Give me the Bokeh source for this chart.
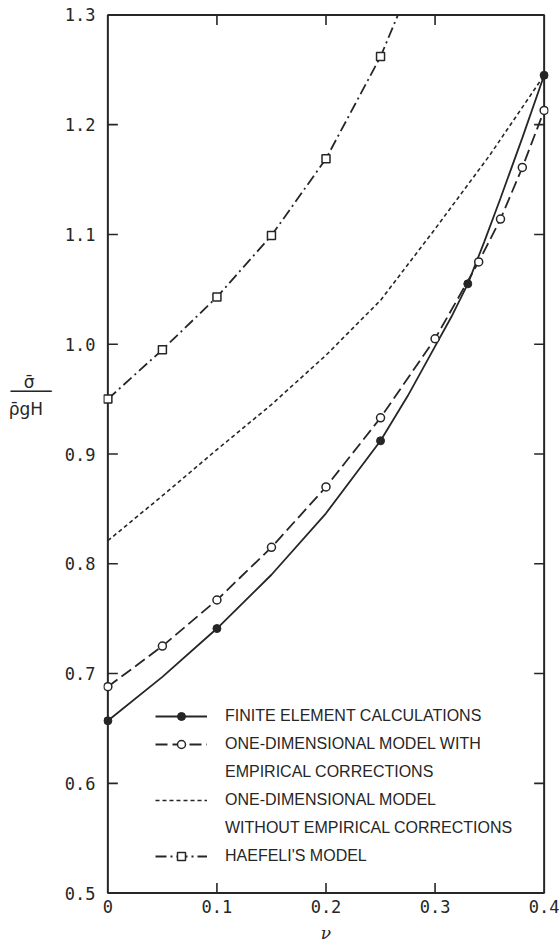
from bokeh.plotting import figure
from bokeh.models import Range1d, LinearAxis, FixedTicker, Legend, LegendItem
from bokeh.embed import file_html
from bokeh.resources import INLINE

# ---------------- data ----------------
# Finite element calculations (filled circles, solid line)
fe_x = [0.0, 0.10, 0.25, 0.33, 0.40]
fe_y = [0.657, 0.741, 0.912, 1.055, 1.245]
fe_curve_x = [0.0, 0.05, 0.10, 0.15, 0.20, 0.25, 0.275, 0.30, 0.315, 0.33, 0.345, 0.36, 0.38, 0.40]
fe_curve_y = [0.657, 0.697, 0.741, 0.790, 0.846, 0.912, 0.953, 0.998, 1.025, 1.055, 1.093, 1.133, 1.188, 1.245]

# One-dimensional model with empirical corrections (open circles, long dash)
oc_x = [0.0, 0.05, 0.10, 0.15, 0.20, 0.25, 0.30, 0.34, 0.36, 0.38, 0.40]
oc_y = [0.688, 0.725, 0.767, 0.815, 0.870, 0.933, 1.005, 1.075, 1.114, 1.161, 1.213]

# One-dimensional model without empirical corrections (short dash line)
nc_x = [0.0, 0.05, 0.10, 0.15, 0.20, 0.25, 0.30, 0.35, 0.40]
nc_y = [0.821, 0.862, 0.904, 0.945, 0.990, 1.040, 1.105, 1.172, 1.245]

# Haefeli's model (open squares, dash-dot)
hf_x = [0.0, 0.05, 0.10, 0.15, 0.20, 0.25]
hf_y = [0.950, 0.995, 1.043, 1.099, 1.169, 1.262]
hf_curve_x = [0.0, 0.05, 0.10, 0.15, 0.20, 0.25, 0.266]
hf_curve_y = [0.950, 0.995, 1.043, 1.099, 1.169, 1.262, 1.300]

x_ticks = [0.0, 0.1, 0.2, 0.3, 0.4]
x_tick_labels = ["0", "0.1", "0.2", "0.3", "0.4"]
y_ticks = [0.5, 0.6, 0.7, 0.8, 0.9, 1.0, 1.1, 1.2, 1.3]
y_tick_labels = ["0.5", "0.6", "0.7", "0.8", "0.9", "1.0", "1.1", "1.2", "1.3"]

x_title = "ν"
# y title is the fraction  σ̄ / (ρ̄ g H), written as three stacked texts
y_title_parts = ["σ̄\u2002\u2002", "────", "ρ̄gH\u2002"]
y_title_at = [0.966, 0.957, 0.941]   # vertical placement (data units) of the three parts

legend_rows = [
    "FINITE ELEMENT CALCULATIONS",
    "ONE-DIMENSIONAL MODEL WITH",
    "EMPIRICAL CORRECTIONS",
    "ONE-DIMENSIONAL MODEL",
    "WITHOUT EMPIRICAL CORRECTIONS",
    "HAEFELI'S MODEL",
]

# ---------------- figure ----------------
INK = "#262626"
MONO = "DejaVu Sans Mono"
SANS = "Liberation Sans"

X0, X1 = x_ticks[0], x_ticks[-1]
Y0, Y1 = y_ticks[0], y_ticks[-1]
FW, FH = 445, 887
XPAD, YPAD = 0.004, 0.004
PX_X = FW / (X1 - X0 + 2 * XPAD)   # pixels per x unit
PX_Y = FH / (Y1 - Y0 + 2 * YPAD)   # pixels per y unit
TICK = 10  # px

p = figure(
    frame_width=FW, frame_height=FH,
    x_range=Range1d(X0 - XPAD, X1 + XPAD), y_range=Range1d(Y0 - YPAD, Y1 + YPAD),
    x_axis_location=None, y_axis_location=None,
    output_backend="svg", toolbar_location=None,
    min_border_left=103, min_border_right=11, min_border_top=10, min_border_bottom=48,
    background_fill_color="white", border_fill_color="white",
)
p.outline_line_color = None
p.xgrid.visible = False
p.ygrid.visible = False


def label_axis(ax):
    ax.axis_line_color = None
    ax.major_tick_line_color = None
    ax.minor_tick_line_color = None
    ax.major_tick_in = 0
    ax.major_tick_out = 0
    ax.major_label_text_font = MONO
    ax.major_label_text_font_size = "17px"
    ax.major_label_text_color = INK


# tick labels (labels only; the box and tick marks are drawn below)
xlab = LinearAxis(ticker=FixedTicker(ticks=x_ticks), bounds=(X0, X1),
                  major_label_overrides=dict(zip(x_ticks, x_tick_labels)))
label_axis(xlab)
xlab.major_label_standoff = 2
xlab.axis_label = x_title
xlab.axis_label_text_font = "DejaVu Serif"
xlab.axis_label_text_font_style = "italic"
xlab.axis_label_text_font_size = "17px"
xlab.axis_label_text_color = INK
xlab.axis_label_standoff = 7
p.add_layout(xlab, "below")

ylab = LinearAxis(ticker=FixedTicker(ticks=y_ticks), bounds=(Y0, Y1),
                  major_label_overrides=dict(zip(y_ticks, y_tick_labels)))
label_axis(ylab)
ylab.major_label_standoff = 8
p.add_layout(ylab, "left")

# y title: three stacked texts on an outer, tick-less axis
ytitle = LinearAxis(ticker=FixedTicker(ticks=y_title_at), bounds=(Y0, Y1),
                    major_label_overrides=dict(zip(y_title_at, y_title_parts)))
label_axis(ytitle)
ytitle.major_label_text_font = "DejaVu Sans"
ytitle.major_label_text_font_size = "17px"
ytitle.major_label_standoff = 10
p.add_layout(ytitle, "left")

# frame box
p.quad(left=[X0], right=[X1], bottom=[Y0], top=[Y1], fill_color=None,
       line_color=INK, line_width=2)

# inward tick marks on all four sides
xi = x_ticks[1:-1]
yi = y_ticks[1:-1]
dx = TICK / PX_X
dy = TICK / PX_Y
p.segment(x0=xi, y0=[Y0] * len(xi), x1=xi, y1=[Y0 + dy] * len(xi), line_color=INK, line_width=1.6)
p.segment(x0=xi, y0=[Y1] * len(xi), x1=xi, y1=[Y1 - dy] * len(xi), line_color=INK, line_width=1.6)
p.segment(x0=[X0] * len(yi), y0=yi, x1=[X0 + dx] * len(yi), y1=yi, line_color=INK, line_width=1.6)
p.segment(x0=[X1] * len(yi), y0=yi, x1=[X1 - dx] * len(yi), y1=yi, line_color=INK, line_width=1.6)

# ---------------- curves ----------------
fe_line = p.line(fe_curve_x, fe_curve_y, line_color=INK, line_width=1.8)
fe_pts = p.scatter(fe_x, fe_y, marker="circle", size=8, fill_color=INK, line_color=INK)

oc_line = p.line(oc_x, oc_y, line_color=INK, line_width=1.8, line_dash="12 5")
oc_pts = p.scatter(oc_x, oc_y, marker="circle", size=8, fill_color="white", line_color=INK, line_width=1.5)

nc_line = p.line(nc_x, nc_y, line_color=INK, line_width=1.6, line_dash="4 3")

hf_line = p.line(hf_curve_x, hf_curve_y, line_color=INK, line_width=1.8, line_dash="11 4 2 4")
hf_pts = p.scatter(hf_x, hf_y, marker="square", size=8, fill_color="white", line_color=INK, line_width=1.5)

legend = Legend(
    items=[
        LegendItem(label=legend_rows[0], renderers=[fe_line, fe_pts]),
        LegendItem(label=legend_rows[1], renderers=[oc_line, oc_pts]),
        LegendItem(label=legend_rows[2], renderers=[]),
        LegendItem(label=legend_rows[3], renderers=[nc_line]),
        LegendItem(label=legend_rows[4], renderers=[]),
        LegendItem(label=legend_rows[5], renderers=[hf_line, hf_pts]),
    ],
    location=(52, 31),
    border_line_color=None, background_fill_alpha=0,
    padding=0, margin=0, spacing=8,
    glyph_width=52, glyph_height=20, label_standoff=18,
    label_text_font=SANS, label_text_font_size="16px", label_text_color=INK,
    label_height=20,
)
p.add_layout(legend)

open("out.html", "w").write(file_html(p, INLINE))
